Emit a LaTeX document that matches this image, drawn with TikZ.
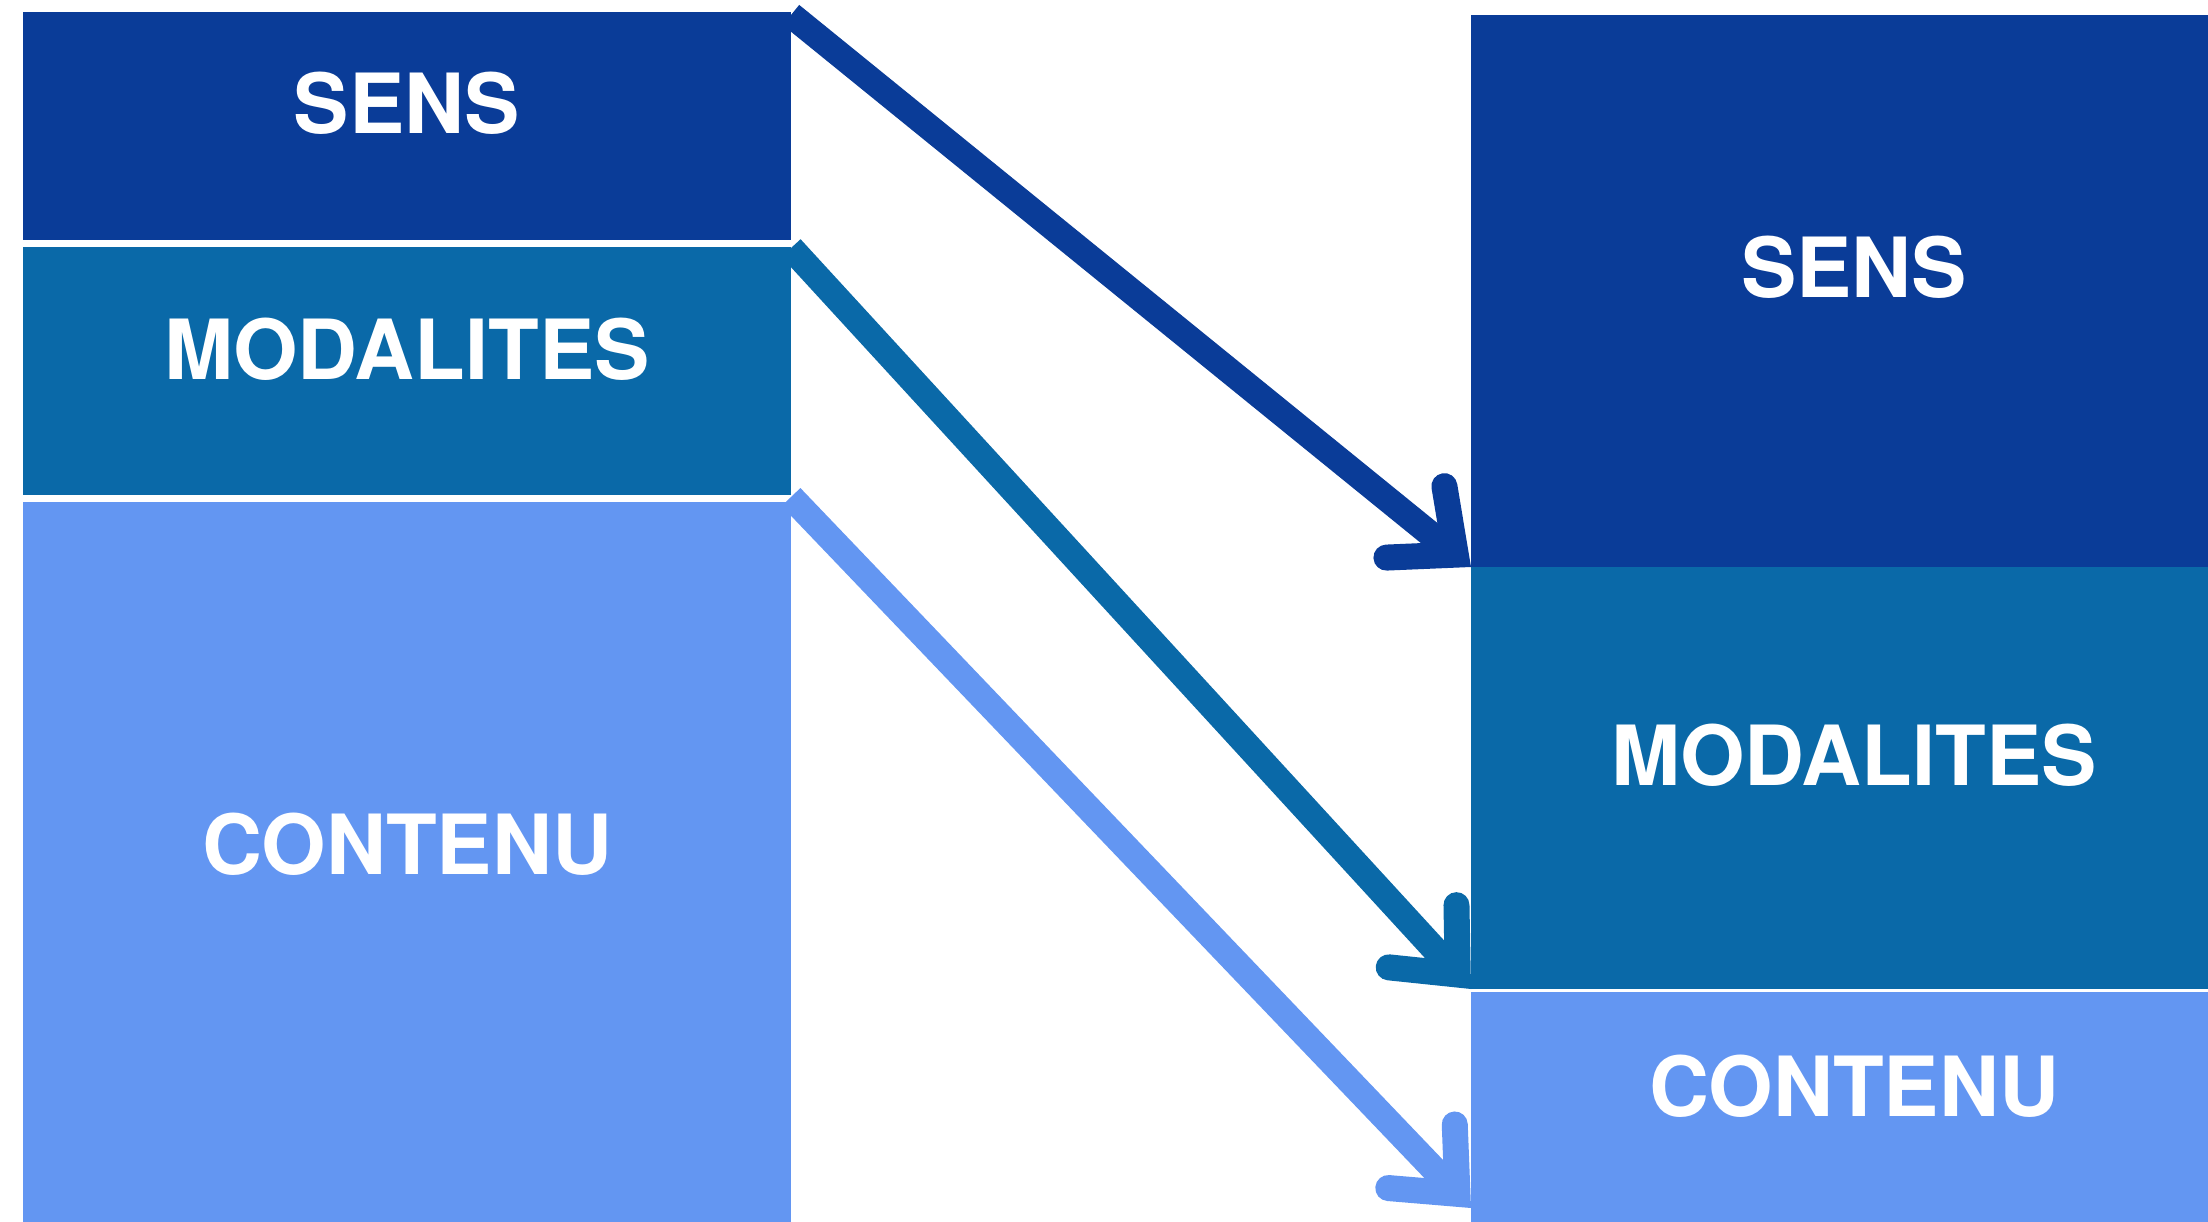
\documentclass[tikz,border=0pt]{standalone}
\usepackage{fontspec}
\setmainfont{TeX Gyre Heros}
\usetikzlibrary{arrows.meta}
\definecolor{cdark}{HTML}{0A3C98}
\definecolor{cmid}{HTML}{0A69A8}
\definecolor{clight}{HTML}{6396F2}
\begin{document}
\begin{tikzpicture}[x=1pt,y=-1pt,
  box/.style={rectangle, inner sep=0pt, outer sep=0pt, draw=none, anchor=north west},
  lbl/.style={text=white, font=\fontsize{83}{90}\selectfont\bfseries, inner sep=0pt, anchor=base},
  flow/.style={line width=26pt, line cap=butt,
    -{Straight Barb[length=52pt, width=92pt, line cap=round, line join=miter]}}]
\useasboundingbox (0,0) rectangle (2208,1222);
% left boxes
\node[box, fill=cdark, minimum width=768pt, minimum height=228pt] (lsens) at (23,12) {};
\node[box, fill=cmid, minimum width=768pt, minimum height=248pt] (lmod) at (23,247) {};
\node[box, fill=clight, minimum width=768pt, minimum height=720pt] (lcont) at (23,502) {};
% right boxes
\node[box, fill=cdark, minimum width=737pt, minimum height=552pt] (rsens) at (1471,15) {};
\node[box, fill=cmid, minimum width=737pt, minimum height=422pt] (rmod) at (1471,567) {};
\node[box, fill=clight, minimum width=737pt, minimum height=230pt] (rcont) at (1471,992) {};
% labels
\node[lbl] (tls) at (407,134) {SENS};
\node[lbl] (tlm) at (407,379) {MODALITES};
\node[lbl] (tlc) at (407,874) {CONTENU};
\node[lbl] (trs) at (1854,298) {SENS};
\node[lbl] (trm) at (1854,785) {MODALITES};
\node[lbl] (trc) at (1854,1116) {CONTENU};
% arrows
\coordinate (s1) at ([yshift=-3pt]lsens.north east);
\coordinate (s2) at ([yshift=-1pt]lmod.north east);
\coordinate (s3) at ([yshift=5pt]lcont.north east);
\coordinate (e1) at (rsens.south west);
\coordinate (e2) at (rmod.south west);
\coordinate (e3) at ([yshift=14pt]rcont.south west);
\draw[flow, draw=cdark] (s1) -- (e1);
\draw[flow, draw=cmid] (s2) -- (e2);
\draw[flow, draw=clight] (s3) -- (e3);
\end{tikzpicture}
\end{document}
